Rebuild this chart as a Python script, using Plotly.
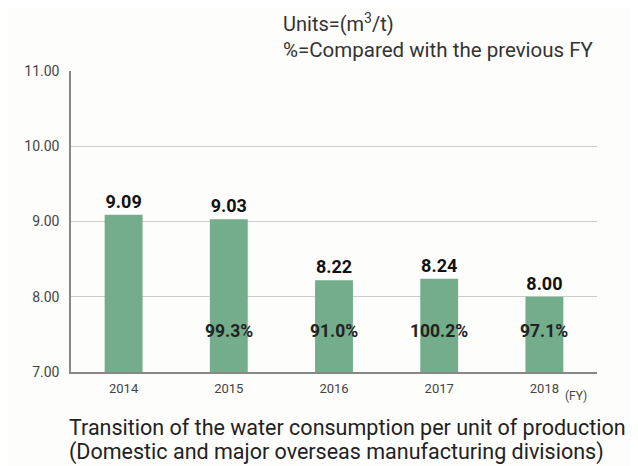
import plotly.graph_objects as go

years = ["2014", "2015", "2016", "2017", "2018"]
values = [9.09, 9.03, 8.22, 8.24, 8.00]
percents = ["", "99.3%", "91.0%", "100.2%", "97.1%"]
y_ticks = [7, 8, 9, 10, 11]

FONT = "Roboto"
fig = go.Figure()
fig.add_trace(go.Bar(
    x=years, y=values,
    marker=dict(color="#73ad8b", line=dict(width=0)),
    text=[f"<b>{v:.2f}</b>" for v in values], textposition="outside",
    textfont=dict(family=FONT, size=18, color="#111111"),
    cliponaxis=False,
))

for i, p in enumerate(percents):
    if p:
        fig.add_annotation(x=i, y=7.55, text=f"<b>{p}</b>", showarrow=False,
                           font=dict(family=FONT, size=17.5, color="#222222"))

fig.add_annotation(xref="paper", yref="paper", x=0.4, y=1.208, xanchor="left",
                   text="Units=(m<sup>3</sup>/t)", showarrow=False,
                   font=dict(family=FONT, size=20, color="#333333"))
fig.add_annotation(xref="paper", yref="paper", x=0.4, y=1.117, xanchor="left",
                   text="%=Compared with the previous FY", showarrow=False,
                   font=dict(family=FONT, size=20.5, color="#333333"))
fig.add_annotation(xref="paper", yref="paper", x=0.935, y=-0.11, xanchor="left",
                   text="(FY)", showarrow=False,
                   font=dict(family=FONT, size=12, color="#444444"))
fig.add_annotation(xref="paper", yref="paper", x=-0.007, y=-0.234, xanchor="left",
                   text="Transition of the water consumption per unit of production", showarrow=False,
                   font=dict(family=FONT, size=21.5, color="#222222"))
fig.add_annotation(xref="paper", yref="paper", x=-0.007, y=-0.315, xanchor="left",
                   text="(Domestic and major overseas manufacturing divisions)", showarrow=False,
                   font=dict(family=FONT, size=21.5, color="#222222"))

fig.update_layout(
    width=638, height=466,
    margin=dict(l=63, r=49, t=63, b=102),
    paper_bgcolor="#fdfdfb", plot_bgcolor="#fdfdfb",
    showlegend=False,
    bargap=0.64,
)
fig.update_xaxes(type="category", range=[-0.5, 4.5], showgrid=False, showline=True,
                 linecolor="#888888", linewidth=1.5,
                 tickfont=dict(family=FONT, size=13, color="#444444"), ticks="outside",
                 ticklen=4, tickcolor="rgba(0,0,0,0)")
fig.update_yaxes(range=[7, 11], tickvals=y_ticks,
                 ticktext=[f"{t:.2f}" for t in y_ticks],
                 showgrid=True, gridcolor="#cccccc", gridwidth=1,
                 showline=True, linecolor="#888888", linewidth=1.5,
                 ticks="outside", ticklen=7, tickcolor="rgba(0,0,0,0)",
                 tickfont=dict(family=FONT, size=14, color="#444444"), zeroline=False)
fig.write_html("out.html")
